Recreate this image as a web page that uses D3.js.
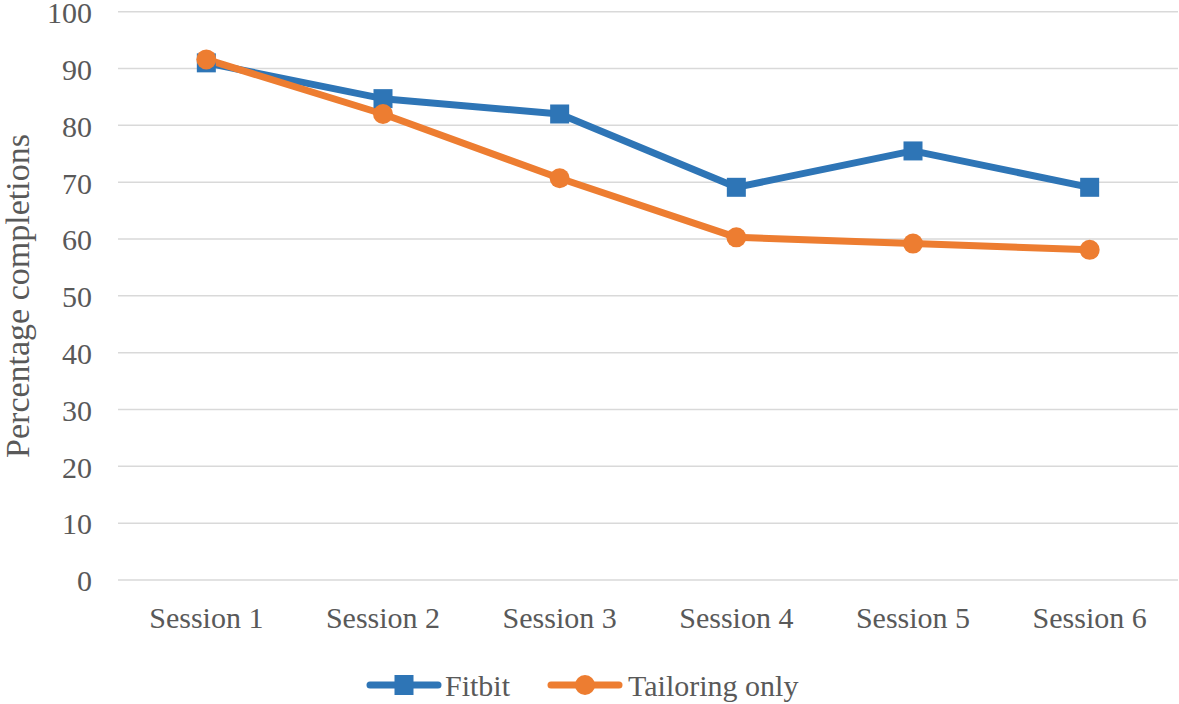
<!DOCTYPE html>
<html><head><meta charset="utf-8">
<script src="https://cdn.jsdelivr.net/npm/d3@7"></script>
<style>body{margin:0;background:#fff}svg{display:block}</style>
</head><body>
<svg id="c" width="1179" height="704"></svg>
<script>
const categories = ["Session 1","Session 2","Session 3","Session 4","Session 5","Session 6"];
const fitbit = [91.0, 84.7, 82.0, 69.1, 75.5, 69.1];
const tailoring = [91.6, 82.0, 70.7, 60.3, 59.2, 58.1];
const yTicks = [0,10,20,30,40,50,60,70,80,90,100];
const seriesNames = ["Fitbit","Tailoring only"];
const colors = ["#2E75B6","#ED7D31"];

const svg = d3.select("#c");
const font = "Liberation Serif, Tinos, Times New Roman, DejaVu Serif, serif";
const textColor = "#595959";
const fs = 30;
const x = d3.scaleBand().domain(categories).range([118,1178]);
const y = d3.scaleLinear().domain([0,100]).range([580,11.7]);

// gridlines
svg.append("g").selectAll("line").data(yTicks).join("line")
  .attr("x1",118).attr("x2",1178)
  .attr("y1",d=>y(d)).attr("y2",d=>y(d))
  .attr("stroke","#D9D9D9").attr("stroke-width",1.5);

// y axis
const ya = svg.append("g").attr("transform","translate(118,0)")
  .call(d3.axisLeft(y).tickValues(yTicks).tickSize(0).tickPadding(26));
ya.select(".domain").remove();
ya.attr("font-family",null).attr("font-size",null);
ya.selectAll("text").style("font-family",font).style("font-size",fs+"px")
  .attr("fill",textColor).attr("dy","0.36em");

// x axis
const xa = svg.append("g").attr("transform","translate(0,580)")
  .call(d3.axisBottom(x).tickSize(0).tickPadding(0));
xa.select(".domain").remove();
xa.attr("font-family",null).attr("font-size",null);
xa.selectAll("text").style("font-family",font).style("font-size",fs+"px")
  .attr("fill",textColor).attr("y",48).attr("dy",0);

// y title
svg.append("text").attr("transform","translate(29,296) rotate(-90)")
  .attr("text-anchor","middle").style("font-family",font).style("font-size","34px")
  .attr("fill",textColor).text("Percentage completions");

const cx = d => x(d) + x.bandwidth()/2;
const line = d3.line().x((d,i)=>cx(categories[i])).y(d=>y(d));

const data = [fitbit, tailoring];
data.forEach((vals, s) => {
  svg.append("path").datum(vals).attr("d",line)
    .attr("fill","none").attr("stroke",colors[s]).attr("stroke-width",7)
    .attr("stroke-linejoin","round").attr("stroke-linecap","round");
});
// markers
svg.append("g").selectAll("rect").data(fitbit).join("rect")
  .attr("x",(d,i)=>cx(categories[i])-9.5).attr("y",d=>y(d)-9.5)
  .attr("width",19).attr("height",19).attr("fill",colors[0]);
svg.append("g").selectAll("circle").data(tailoring).join("circle")
  .attr("cx",(d,i)=>cx(categories[i])).attr("cy",d=>y(d)).attr("r",10)
  .attr("fill",colors[1]);

// legend
const legendItems = [{x0:367,tx:445},{x0:548,tx:628}];
seriesNames.forEach((n,s)=>{
  const L = legendItems[s];
  const g = svg.append("g");
  g.append("line").attr("x1",L.x0+3).attr("x2",L.x0+71).attr("y1",685).attr("y2",685)
    .attr("stroke",colors[s]).attr("stroke-width",7).attr("stroke-linecap","round");
  if(s===0) g.append("rect").attr("x",L.x0+37-9.5).attr("y",685-10).attr("width",19).attr("height",20).attr("fill",colors[s]);
  else g.append("circle").attr("cx",L.x0+37).attr("cy",685).attr("r",10).attr("fill",colors[s]);
  g.append("text").attr("x",L.tx).attr("y",685).attr("dy","0.35em")
    .style("font-family",font).style("font-size",fs+"px").attr("fill",textColor).text(n);
});
</script>
</body></html>
